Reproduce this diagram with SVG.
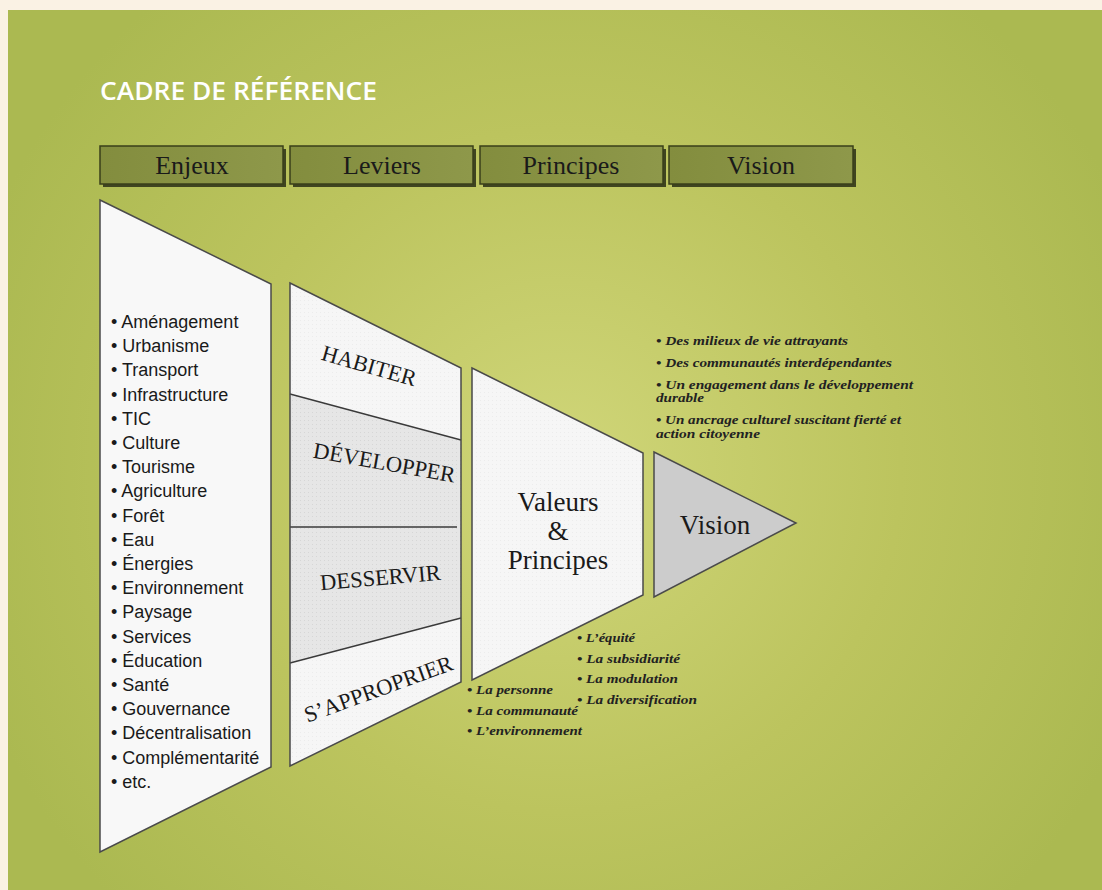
<svg xmlns="http://www.w3.org/2000/svg" width="1102" height="890" viewBox="0 0 1102 890">
<defs>
<radialGradient id="bg" cx="560" cy="470" r="620" gradientUnits="userSpaceOnUse">
<stop offset="0" stop-color="#d0d679"/>
<stop offset="0.55" stop-color="#bcc45e"/>
<stop offset="1" stop-color="#abb951"/>
</radialGradient>
<linearGradient id="hdr" x1="0" y1="0" x2="1" y2="0">
<stop offset="0" stop-color="#838d3e"/>
<stop offset="1" stop-color="#8e984a"/>
</linearGradient>
<pattern id="dots" width="4" height="4" patternUnits="userSpaceOnUse">
<rect width="4" height="4" fill="#e6e6e6"/>
<rect width="1" height="1" fill="#d6d6d6"/>
</pattern>
<pattern id="dotsL" width="4" height="4" patternUnits="userSpaceOnUse">
<rect width="4" height="4" fill="#f6f6f6"/>
<rect width="1" height="1" fill="#ececec"/>
</pattern>
</defs>
<style>
.hbox{fill:url(#hdr);stroke:#3a3f1a;stroke-width:1.5}
.hsh{fill:#3f4420}
.htxt{font-family:"Liberation Serif",serif;font-size:26px;fill:#1a1a1a;text-anchor:middle}
.shape{stroke:#4a4a4a;stroke-width:1.5}
.list{font-family:"Liberation Sans",Arial,sans-serif;font-size:18px;fill:#1a1a1a}
.lev{font-family:"Liberation Serif",serif;font-size:22.5px;fill:#1a1a1a;text-anchor:middle}
.it{font-family:"Liberation Serif",serif;font-style:italic;font-weight:bold;font-size:13.5px;fill:#222}
.big{font-family:"Liberation Serif",serif;font-size:27px;fill:#1a1a1a;text-anchor:middle}
.div{stroke:#3a3a3a;stroke-width:1.3;fill:none}
</style>
<rect width="1102" height="890" fill="#faf2e4"/>
<rect x="8" y="10" width="1094" height="880" fill="url(#bg)"/>
<text x="100" y="100" font-family="Open Sans, sans-serif" font-weight="600" font-size="25" fill="#ffffff" textLength="277" lengthAdjust="spacingAndGlyphs">CADRE DE RÉFÉRENCE</text>

<g id="header-enjeux">
<rect class="hsh" x="103" y="149" width="183" height="38"/>
<rect class="hbox" x="100" y="146" width="183" height="38"/>
<text class="htxt" x="192" y="174">Enjeux</text>
</g>
<g id="header-leviers">
<rect class="hsh" x="293" y="149" width="183" height="38"/>
<rect class="hbox" x="290" y="146" width="183" height="38"/>
<text class="htxt" x="382" y="174">Leviers</text>
</g>
<g id="header-principes">
<rect class="hsh" x="483" y="149" width="183" height="38"/>
<rect class="hbox" x="480" y="146" width="183" height="38"/>
<text class="htxt" x="571" y="174">Principes</text>
</g>
<g id="header-vision">
<rect class="hsh" x="672" y="149" width="184" height="38"/>
<rect class="hbox" x="669" y="146" width="184" height="38"/>
<text class="htxt" x="761" y="174">Vision</text>
</g>

<g id="enjeux">
<polygon class="shape" points="100,200 271,284 271,767 100,852" fill="#f8f8f8"/>
<text class="list" x="111" y="328">
<tspan x="111" dy="0">• Aménagement</tspan>
<tspan x="111" dy="24.2">• Urbanisme</tspan>
<tspan x="111" dy="24.2">• Transport</tspan>
<tspan x="111" dy="24.2">• Infrastructure</tspan>
<tspan x="111" dy="24.2">• TIC</tspan>
<tspan x="111" dy="24.2">• Culture</tspan>
<tspan x="111" dy="24.2">• Tourisme</tspan>
<tspan x="111" dy="24.2">• Agriculture</tspan>
<tspan x="111" dy="24.2">• Forêt</tspan>
<tspan x="111" dy="24.2">• Eau</tspan>
<tspan x="111" dy="24.2">• Énergies</tspan>
<tspan x="111" dy="24.2">• Environnement</tspan>
<tspan x="111" dy="24.2">• Paysage</tspan>
<tspan x="111" dy="24.2">• Services</tspan>
<tspan x="111" dy="24.2">• Éducation</tspan>
<tspan x="111" dy="24.2">• Santé</tspan>
<tspan x="111" dy="24.2">• Gouvernance</tspan>
<tspan x="111" dy="24.2">• Décentralisation</tspan>
<tspan x="111" dy="24.2">• Complémentarité</tspan>
<tspan x="111" dy="24.2">• etc.</tspan>
</text>
</g>

<g id="leviers">
<polygon points="290,283 461,368 461,682 290,766" fill="url(#dotsL)"/>
<polygon points="290,394 461,440 461,618 290,663" fill="url(#dots)"/>
<line class="div" x1="290" y1="394" x2="461" y2="440"/>
<line class="div" x1="290" y1="527" x2="457" y2="527"/>
<line class="div" x1="290" y1="663" x2="461" y2="618"/>
<polygon class="shape" points="290,283 461,368 461,682 290,766" fill="none"/>
<text class="lev" transform="translate(367,373) rotate(16)">HABITER</text>
<text class="lev" transform="translate(383,470) rotate(10)">DÉVELOPPER</text>
<text class="lev" transform="translate(381,585) rotate(-5)">DESSERVIR</text>
<text class="lev" transform="translate(381,696) rotate(-20)">S’APPROPRIER</text>
</g>

<g id="valeurs">
<polygon class="shape" points="472,368 643,453 643,595 472,680" fill="url(#dotsL)"/>
<text class="big" x="558" y="511">Valeurs</text>
<text class="big" x="558" y="540">&amp;</text>
<text class="big" x="558" y="569">Principes</text>
</g>

<g id="vision">
<polygon class="shape" points="654,452 796,523 654,597" fill="#cccccc"/>
<text class="big" x="715" y="534" font-size="25">Vision</text>
</g>

<g id="vision-list">
<text class="it" x="656" y="345" textLength="192" lengthAdjust="spacingAndGlyphs">• Des milieux de vie attrayants</text>
<text class="it" x="656" y="367" textLength="236" lengthAdjust="spacingAndGlyphs">• Des communautés interdépendantes</text>
<text class="it" x="656" y="389" textLength="257" lengthAdjust="spacingAndGlyphs">• Un engagement dans le  développement</text>
<text class="it" x="656" y="402" textLength="48" lengthAdjust="spacingAndGlyphs">durable</text>
<text class="it" x="656" y="424" textLength="245" lengthAdjust="spacingAndGlyphs">• Un ancrage culturel suscitant fierté et</text>
<text class="it" x="656" y="438" textLength="104" lengthAdjust="spacingAndGlyphs">action citoyenne</text>
</g>

<g id="principes-list">
<text class="it" x="577" y="642" textLength="58" lengthAdjust="spacingAndGlyphs">• L’équité</text>
<text class="it" x="577" y="663" textLength="103" lengthAdjust="spacingAndGlyphs">• La subsidiarité</text>
<text class="it" x="577" y="683" textLength="101" lengthAdjust="spacingAndGlyphs">• La modulation</text>
<text class="it" x="577" y="704" textLength="120" lengthAdjust="spacingAndGlyphs">• La diversification</text>
</g>

<g id="valeurs-list">
<text class="it" x="467" y="694" textLength="86" lengthAdjust="spacingAndGlyphs">• La personne</text>
<text class="it" x="467" y="715" textLength="111" lengthAdjust="spacingAndGlyphs">• La communauté</text>
<text class="it" x="467" y="735" textLength="115" lengthAdjust="spacingAndGlyphs">• L’environnement</text>
</g>

<g id="connectors"></g>
</svg>
